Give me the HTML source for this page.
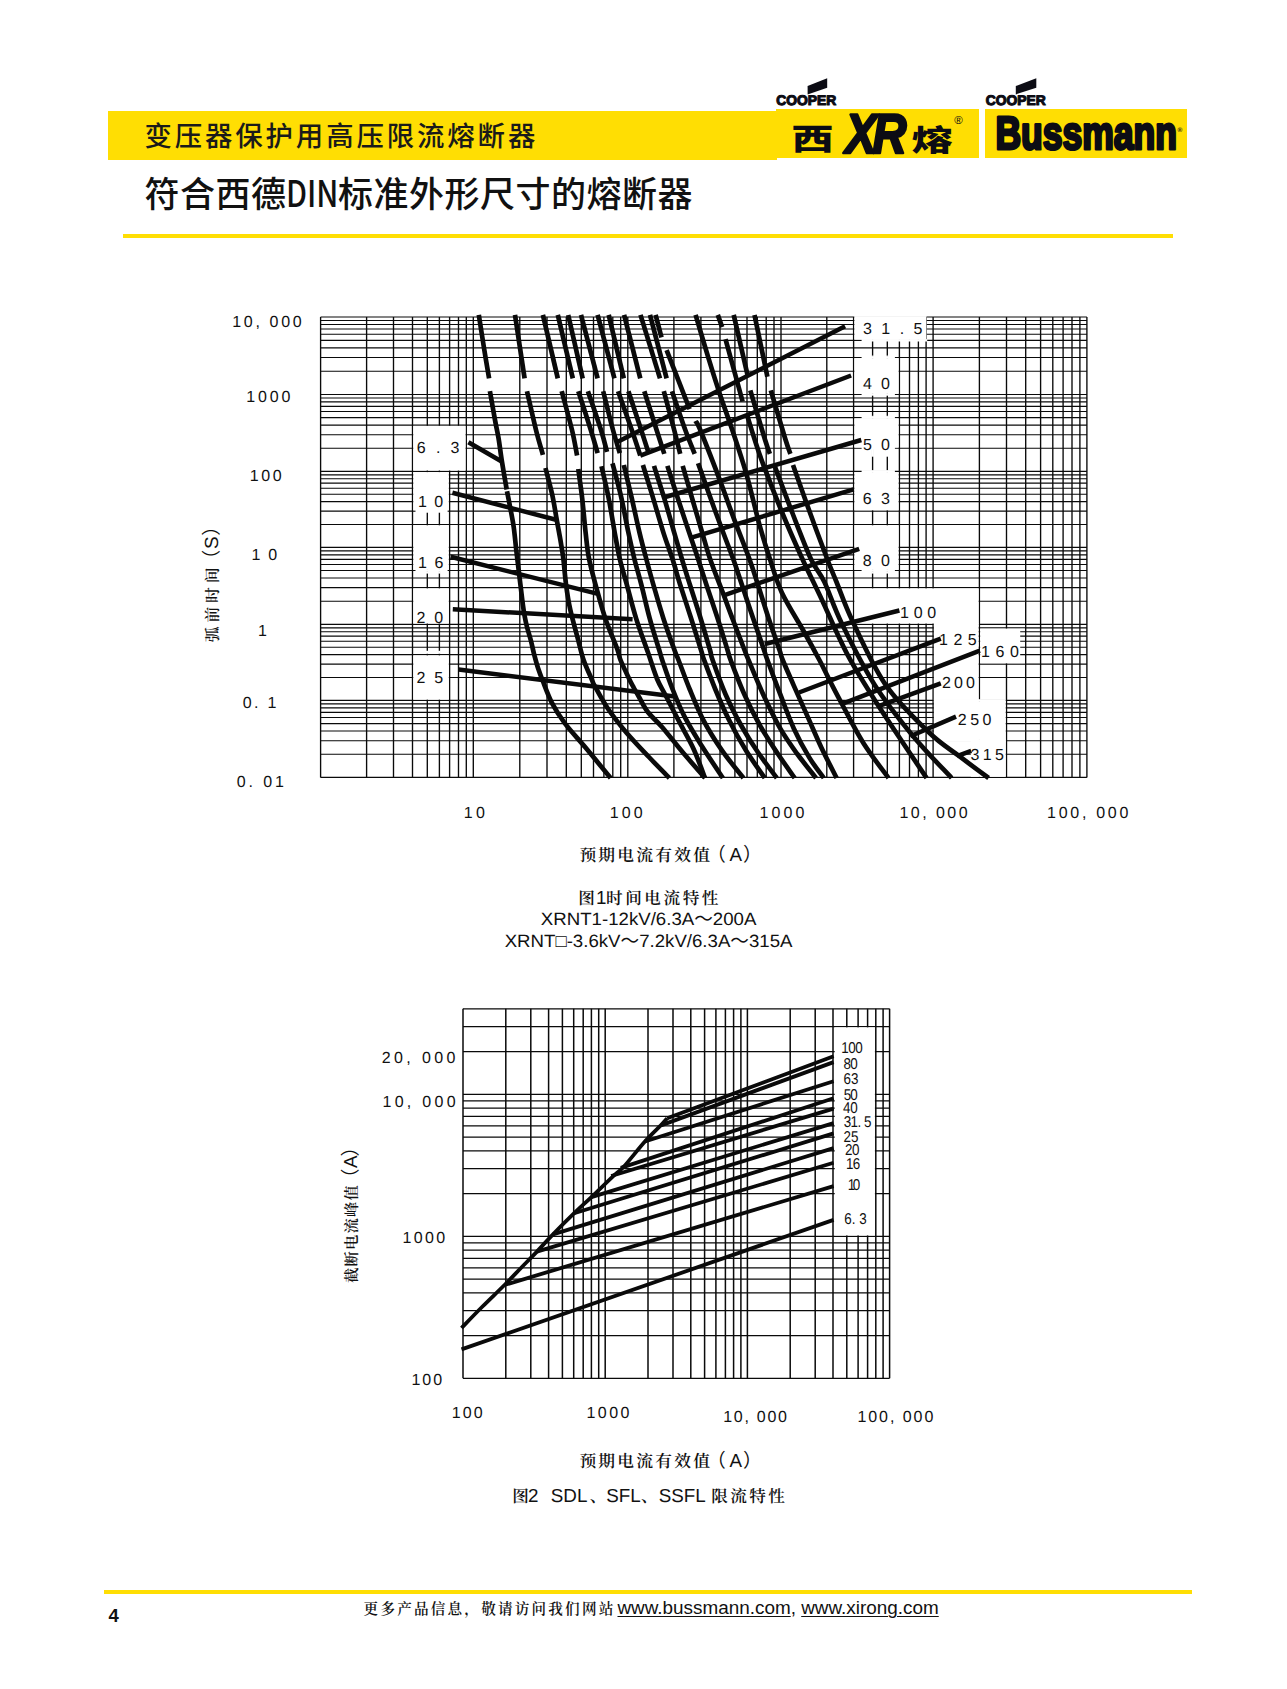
<!DOCTYPE html>
<html lang="zh-CN"><head><meta charset="utf-8">
<title>变压器保护用高压限流熔断器</title>
<style>
html,body{margin:0;padding:0;background:#fff;}
body{width:1287px;height:1689px;overflow:hidden;}
#page{position:relative;width:1287px;height:1689px;background:#fff;overflow:hidden;
  font-family:"Liberation Sans","Noto Sans CJK SC",sans-serif;color:#111;}
#charts{position:absolute;left:0;top:0;}
.bar{position:absolute;left:108px;top:111.2px;width:668.5px;height:48.6px;background:#ffde03;}
.logobox{position:absolute;top:108.6px;height:49px;background:#ffde03;}
#lb1{left:775.9px;width:203.2px;}
#lb2{left:984.9px;width:202.4px;}
h1,h2,p{margin:0;padding:0;font-weight:400;white-space:nowrap;}
#title{position:absolute;left:144.4px;top:113.6px;font-family:"Noto Sans CJK SC","Liberation Sans",sans-serif;
  font-size:27.4px;line-height:40px;letter-spacing:2.9px;font-weight:500;color:#1a1a1a;}
#subtitle{position:absolute;left:144.4px;top:167.2px;font-family:"Noto Sans CJK SC","Liberation Sans",sans-serif;
  font-size:35px;line-height:50px;letter-spacing:0.5px;font-weight:500;color:#111;}
.rule{position:absolute;background:#ffde03;}
#rule1{left:122.5px;top:233.5px;width:1050.5px;height:4px;}
#rule2{left:104px;top:1590px;width:1088px;height:4.2px;}
#pageno{position:absolute;left:108.5px;top:1606px;font-size:18.5px;line-height:20px;font-weight:700;color:#111;}
#foot{position:absolute;left:363.6px;top:1596.5px;line-height:22px;font-size:18.9px;color:#111;}
#foot .cn{font-family:"Noto Serif CJK SC","Liberation Serif",serif;font-size:14.6px;letter-spacing:2.2px;font-weight:600;}
#foot .u{text-decoration:underline;text-underline-offset:1.5px;text-decoration-thickness:1.3px;}
#subtitle .din{display:inline-block;width:51.5px;transform:scale(0.86,1.06);transform-origin:0 78%;letter-spacing:0;}
#foot .cn{margin-right:-3.3px;}

</style></head><body>
<div id="page">
<div class="bar"></div>
<div class="logobox" id="lb1"></div>
<div class="logobox" id="lb2"></div>
<h1 id="title">变压器保护用高压限流熔断器</h1>
<h2 id="subtitle">符合西德<span class="din">DIN</span>标准外形尺寸的熔断器</h2>
<div class="rule" id="rule1"></div>

<svg id="charts" width="1287" height="1689" viewBox="0 0 1287 1689" text-rendering="geometricPrecision">
<g id="c1grid" stroke="#0a0a0a" fill="none">
<path stroke-width="1.35" d="M320.6 317V777.4M366.6 317V777.4M393.5 317V777.4M412.5 317V777.4M427.3 317V777.4M439.4 317V777.4M449.6 317V777.4M458.5 317V777.4M466.3 317V777.4M473.3 317V777.4M519.8 317V777.4M547 317V777.4M566.3 317V777.4M581.3 317V777.4M593.5 317V777.4M603.9 317V777.4M612.8 317V777.4M620.7 317V777.4M627.8 317V777.4M673.9 317V777.4M700.9 317V777.4M720 317V777.4M734.9 317V777.4M747 317V777.4M757.3 317V777.4M766.2 317V777.4M774 317V777.4M781 317V777.4M826.8 317V777.4M853.6 317V777.4M872.6 317V777.4M887.3 317V777.4M899.4 317V777.4M909.5 317V777.4M918.4 317V777.4M926.1 317V777.4M933.1 317V777.4M979.4 317V777.4M1006.5 317V777.4M1025.7 317V777.4M1040.6 317V777.4M1052.8 317V777.4M1063.1 317V777.4M1072 317V777.4M1079.9 317V777.4M1086.9 317V777.4"/>
<path stroke-width="1.15" d="M320.6 394.5H1086.9M320.6 371.2H1086.9M320.6 357.5H1086.9M320.6 347.8H1086.9M320.6 340.3H1086.9M320.6 334.2H1086.9M320.6 329H1086.9M320.6 324.5H1086.9M320.6 320.5H1086.9M320.6 471.3H1086.9M320.6 448.2H1086.9M320.6 434.7H1086.9M320.6 425.1H1086.9M320.6 417.6H1086.9M320.6 411.5H1086.9M320.6 406.4H1086.9M320.6 401.9H1086.9M320.6 398H1086.9M320.6 547.4H1086.9M320.6 524.5H1086.9M320.6 511.1H1086.9M320.6 501.6H1086.9M320.6 494.2H1086.9M320.6 488.2H1086.9M320.6 483.1H1086.9M320.6 478.7H1086.9M320.6 474.8H1086.9M320.6 624.3H1086.9M320.6 601.2H1086.9M320.6 587.6H1086.9M320.6 578H1086.9M320.6 570.5H1086.9M320.6 564.5H1086.9M320.6 559.3H1086.9M320.6 554.9H1086.9M320.6 550.9H1086.9M320.6 700.4H1086.9M320.6 677.5H1086.9M320.6 664.1H1086.9M320.6 654.6H1086.9M320.6 647.2H1086.9M320.6 641.2H1086.9M320.6 636.1H1086.9M320.6 631.7H1086.9M320.6 627.8H1086.9M320.6 777.4H1086.9M320.6 754.2H1086.9M320.6 740.7H1086.9M320.6 731H1086.9M320.6 723.6H1086.9M320.6 717.5H1086.9M320.6 712.3H1086.9M320.6 707.9H1086.9M320.6 703.9H1086.9M320.6 317H1086.9"/>
</g>
<g fill="#fff">
<rect x="413.3" y="425.9" width="52.2" height="44.6"/>
<rect x="413.3" y="472.1" width="35.5" height="38.2"/>
<rect x="415.5" y="509.9" width="32.1" height="2.4"/>
<rect x="413.3" y="525.3" width="35.5" height="44.5"/>
<rect x="415.5" y="569.3" width="32.1" height="2.4"/>
<rect x="413.3" y="588.4" width="35.5" height="35.1"/>
<rect x="413.3" y="655.4" width="35.5" height="44.2"/>
<rect x="854.4" y="316.3" width="72" height="23.2"/>
<rect x="854.4" y="314.3" width="72" height="2.4"/>
<rect x="861.6" y="339.1" width="65.6" height="2.4"/>
<rect x="854.4" y="358.3" width="44.2" height="35.4"/>
<rect x="861.6" y="356.3" width="33.3" height="2.4"/>
<rect x="861.6" y="393.3" width="33.3" height="2.4"/>
<rect x="854.4" y="418.4" width="44.2" height="29"/>
<rect x="861.6" y="416.4" width="33.3" height="2.4"/>
<rect x="861.6" y="447" width="33.3" height="2.4"/>
<rect x="854.4" y="472.1" width="44.2" height="38.2"/>
<rect x="861.6" y="470.1" width="33.3" height="2.4"/>
<rect x="854.4" y="525.3" width="44.2" height="44.5"/>
<rect x="861.6" y="569.3" width="33.3" height="2.4"/>
<rect x="854.4" y="588.4" width="124.2" height="35.1"/>
<rect x="933.9" y="623.1" width="44.7" height="2.4"/>
<rect x="933.9" y="625.1" width="44.7" height="74.5"/>
<rect x="933.9" y="623.1" width="44.7" height="2.4"/>
<rect x="933.9" y="699.2" width="44.7" height="2.4"/>
<rect x="980.2" y="628.6" width="44.7" height="34.7"/>
<rect x="1020.2" y="628.6" width="4.5" height="0.1"/>
<rect x="933.9" y="701.2" width="71.8" height="38.7"/>
<rect x="933.9" y="699.2" width="71.8" height="2.4"/>
<rect x="933.9" y="739.5" width="71.8" height="2.4"/>
<rect x="970.8" y="741.5" width="34.9" height="35.3"/>
<rect x="970.8" y="739.5" width="34.9" height="2.4"/>
<rect x="871.3" y="355.6" width="2.6" height="1.1"/>
<rect x="886" y="355.6" width="2.6" height="1.1"/>
<rect x="871.3" y="415.8" width="2.6" height="1"/>
<rect x="886" y="415.8" width="2.6" height="1"/>
<rect x="871.3" y="449" width="2.6" height="7.7"/>
<rect x="886" y="449" width="2.6" height="7.7"/>
<rect x="871.3" y="571.3" width="2.6" height="2.3"/>
<rect x="886" y="571.3" width="2.6" height="2.3"/>
<rect x="426" y="511.9" width="2.6" height="0.7"/>
<rect x="438.1" y="511.9" width="2.6" height="0.7"/>
<rect x="426" y="571.3" width="2.6" height="2.3"/>
<rect x="438.1" y="571.3" width="2.6" height="2.3"/>
<rect x="426" y="650.8" width="2.6" height="3"/>
<rect x="438.1" y="650.8" width="2.6" height="3"/>
</g>
<g stroke="#0a0a0a" fill="none" stroke-width="1.35">
<path d=""/>
</g>
<g stroke="#0a0a0a" fill="none" stroke-width="1.15">
<path d="M1020.2 631.7H1025.7M1020.2 636.1H1025.7M1020.2 641.2H1025.7M1020.2 647.2H1025.7M1020.2 654.6H1025.7"/>
</g>
<g stroke="#0a0a0a" fill="none" stroke-width="4.7" stroke-linejoin="round">
<path d="M478.8 314.9C479.7 320.4 482.3 337.4 484 348C485.7 358.6 488.2 373.3 489.1 378.4"/>
<path d="M489.9 391.2C490.8 396 493.6 412.2 495 420C496.4 427.8 497.3 431 498.5 438C499.7 445 500.6 453.4 502 462C503.4 470.6 505.9 484.9 506.7 489.5"/>
<path d="M507 491.2C507.6 494.1 509.3 502.6 510.4 508.6C511.5 514.6 512.7 519.8 513.7 527C514.7 534.2 515.5 543.7 516.5 552C517.5 560.3 518.5 568.8 519.5 577C520.5 585.2 521.6 594.6 522.4 601C523.2 607.4 523.7 611.1 524.5 615.4C525.3 619.7 525.9 622.7 527 627C528.1 631.3 529.8 636.3 531 641C532.2 645.7 533.1 650.5 534.3 655C535.5 659.5 536.6 663.8 538 668C539.4 672.2 540.3 674.7 542.6 680.5C544.9 686.3 548.2 695.8 551.9 702.9C555.6 710 559.3 715.9 564.9 723.4C570.5 730.9 577.9 738.5 585.5 747.6C593.1 756.7 606.4 772.9 610.6 778"/>
<path d="M515 314.9 L524.6 378.4"/>
<path d="M527 391.2C528.5 397.7 533.4 419.4 536 430C538.6 440.6 541.8 450.7 542.9 454.8"/>
<path d="M545.5 468C546.6 472.5 550.4 486.5 552.3 495C554.1 503.5 555.2 511 556.6 519C558 527 559.8 536.1 560.9 542.8C562 549.5 562.5 552.1 563.4 559C564.2 565.9 564.9 575.7 566 584.2C567.1 592.7 568.3 600.7 570.3 609.8C572.3 618.9 575.7 630.5 577.9 638.9C580.1 647.3 581.3 653.3 583.6 660C585.9 666.7 589.7 674.6 591.6 679C593.5 683.4 592.1 681.2 594.8 686.1C597.5 691 602.5 700.7 607.8 708.5C613.1 716.3 619.6 724.6 626.5 732.7C633.4 740.8 641.8 749.5 648.9 757C656 764.5 666 774.5 669.4 778"/>
<path d="M542.9 314.9 L557.8 378.4"/>
<path d="M561.7 391.2C563.4 397.7 569.4 419.3 572 430C574.6 440.7 576.2 451.3 577.1 455.6"/>
<path d="M578.3 469C578.9 473.9 581 487.8 582.2 498.4C583.4 509 584.5 522.5 585.6 532.6C586.8 542.7 587.2 549.5 589.1 559C591 568.5 594.1 579.4 596.8 589.3C599.5 599.2 601.9 608.4 605.3 618.4C608.7 628.4 614.8 642.2 617.3 649.1C619.8 656 618.5 655 620.5 660C622.5 665 627 674.3 629.2 679C631.4 683.7 632.3 685 633.9 688C635.5 691 636.7 693 639 697C641.3 701 644 707 647.8 712C651.6 717 656.2 720.3 662 727C667.8 733.7 675.5 743.8 682.7 752.3C689.9 760.8 701.3 773.7 705 778"/>
<path d="M557.8 314.9 L572.8 378.4"/>
<path d="M578.3 391.2C580.4 397.7 587.6 419.7 590.8 430C594 440.3 596.5 449.2 597.6 453.1"/>
<path d="M601.5 466.2C602.7 471.6 606.5 487.3 608.7 498.4C610.9 509.5 612.9 522.5 614.7 532.6C616.6 542.7 617.8 550.4 619.8 559C621.8 567.6 624 574.3 626.7 584.2C629.4 594.1 632.6 607 636.1 618.4C639.6 629.8 644.5 642.5 648 652.6C651.5 662.7 654.1 671.7 657.1 679C660.1 686.3 662.4 689.1 666.2 696.5C670 703.9 675.4 714.5 680 723.2C684.6 731.9 689.4 739.8 693.6 748.9C697.8 758 703.1 773.1 705 778"/>
<path d="M568.2 314.9 L582.7 378.4"/>
<path d="M587.9 391.2C590.1 397.7 597.8 419.9 601 430C604.2 440.1 606 448.2 607 451.9"/>
<path d="M612.5 463.3C614 469.1 618.9 486.8 621.5 498.4C624.1 509.9 626.2 522.5 628.4 532.6C630.5 542.7 632.3 550.4 634.4 559C636.5 567.6 638.7 574.3 641.2 584.2C643.8 594.1 646.6 607 649.7 618.4C652.8 629.8 657.9 645.7 660 652.6C662.1 659.5 660.1 653.9 662.2 660C664.3 666.1 668.8 679.6 672.5 689C676.2 698.4 679.6 707 684.4 716.4C689.2 725.8 695.1 735.2 701.5 745.5C707.9 755.8 719.3 772.6 722.9 778"/>
<path d="M581 314.9 L597.6 378.4"/>
<path d="M603.2 391.2C604.8 397.7 610.2 419.7 613 430C615.8 440.3 618.7 449.2 619.8 453.1"/>
<path d="M623.8 465C625.1 470.6 629.2 487.1 631.8 498.4C634.4 509.7 637.1 522.5 639.5 532.6C641.9 542.7 644 550.4 646.3 559C648.6 567.6 650.4 574.3 653.2 584.2C656.1 594.1 659.7 607 663.4 618.4C667.1 629.8 672.9 645.7 675.4 652.6C677.9 659.5 676.1 653.9 678.5 660C680.9 666.1 685.5 679 689.6 689C693.7 699 697.8 709.5 703.2 719.8C708.6 730.1 715.4 740.9 722.1 750.6C728.8 760.3 739.9 773.4 743.4 778"/>
<path d="M597.6 314.9 L614.4 378.4"/>
<path d="M618.1 391.2C620.4 397.7 628.1 419.3 631.8 430C635.5 440.7 638.9 451.3 640.3 455.6"/>
<path d="M642.9 465C644.6 470.6 649.8 487.1 653.2 498.4C656.6 509.7 660.2 522.5 663.4 532.6C666.6 542.7 669.7 550.4 672.5 559C675.3 567.6 676.9 574.4 680 584.2C683.1 594 687.5 607 691 618C694.5 629 698.8 643 701 650C703.2 657 701.7 653.5 704.1 660C706.5 666.5 711.1 679 715.2 689C719.3 699 723.8 709.5 728.9 719.8C734 730.1 740 740.9 746 750.6C752 760.3 761.7 773.4 764.8 778"/>
<path d="M608.7 314.9 L623.8 378.4"/>
<path d="M628.4 391.2C630.5 397.7 637.8 419.6 641.2 430C644.6 440.4 647.6 449.9 648.9 453.9"/>
<path d="M654 465.9C655.7 471.3 660.9 487.3 664.3 498.4C667.7 509.5 671.3 522.5 674.2 532.6C677.1 542.7 679.3 550.3 681.9 559C684.5 567.7 686.9 575.2 690 585C693.1 594.8 697.2 607.2 700.5 618C703.8 628.8 708 643 710 650C712 657 710 652.6 712.6 660C715.2 667.4 720.8 683.4 725.5 694.2C730.2 705 735.5 715.3 740.9 725C746.3 734.7 751.9 743.5 757.9 752.3C763.9 761.1 773.6 773.7 776.8 778"/>
<path d="M624.1 314.9 L640.3 378.4"/>
<path d="M644.3 391.2C646.3 397.7 653.3 419.6 656.6 430C659.9 440.4 663 449.9 664.3 453.9"/>
<path d="M667.4 465.9C669.1 471.2 674.1 487 677.7 498C681.3 509 685.6 521.8 689 532C692.4 542.2 695.2 550.2 698.1 559C701 567.8 703.3 575.2 706.5 585C709.7 594.8 714 607.2 717.5 618C721 628.8 725.3 643 727.5 650C729.7 657 727.8 652.6 730.6 660C733.4 667.4 739.4 683.4 744.3 694.2C749.1 705 754.3 715.3 759.7 725C765.1 734.7 771 743.5 776.8 752.3C782.6 761.1 791.7 773.7 794.7 778"/>
<path d="M640.5 314.9 L660 378.4"/>
<path d="M663.8 391.2C665.5 397.7 671.5 419.6 674.2 430C676.9 440.4 679.2 449.9 680.2 453.9"/>
<path d="M682.7 465.9C684.2 471.2 688.8 487 692 498C695.2 509 699 521.8 702 532C705 542.2 706.5 548.5 710.1 559C713.7 569.5 720 585.1 723.8 595.3C727.6 605.5 729.5 610.9 733 620C736.5 629.1 741.9 643.3 744.5 650C747.1 656.7 745.4 652.6 748.5 660C751.6 667.4 757.8 682.8 763.1 694.2C768.4 705.6 774.5 718.4 780.2 728.4C785.9 738.4 791.3 745.7 797.3 754C803.3 762.3 812.9 774 816 778"/>
<path d="M650 314.9 L666.6 378.4"/>
<path d="M672 391.2C674.2 397.7 681.5 419.6 685.3 430C689.1 440.4 693.1 449.9 694.7 453.9"/>
<path d="M698.1 463.3C700.2 469.1 706.4 486.6 710.5 498C714.6 509.4 719.2 521.8 723 532C726.8 542.2 730 550.2 733.2 559C736.4 567.8 738.7 575.2 742 585C745.3 594.8 749.3 607.2 753 618C756.7 628.8 761.6 643 764 650C766.4 657 764.7 652.6 767.4 660C770.1 667.4 775.8 682.8 780.2 694.2C784.6 705.6 789 717.9 793.8 728.4C798.6 738.9 804.2 749.1 809.2 757.4C814.2 765.7 821.4 774.6 823.8 778"/>
<path d="M655.6 314.9 L661.5 337.4"/>
<path d="M666.6 350.2 L689.6 409.1"/>
<path d="M695.5 421C696.4 422.7 696.6 420.9 700.7 431C704.8 441.1 714.8 466.7 720.3 481.3C725.8 495.9 729.1 505.9 734 518.9C738.9 531.9 745.4 548 749.4 559C753.4 570 754.8 575.2 758 585C761.2 594.8 764.9 607.2 768.5 618C772.1 628.8 777.1 643 779.5 650C781.9 657 780.3 654.1 782.7 660C785.1 665.9 789.7 676.2 793.8 685.6C797.9 695 802.9 706.1 807.5 716.4C812.1 726.7 816.4 736.9 821.2 747.2C826.1 757.5 834 772.9 836.6 778"/>
<path d="M695.6 314.9C697.7 322.1 704.3 344.5 708.4 357.9C712.5 371.3 716.3 383.5 720.3 395.5C724.3 407.5 728 417.1 732.3 430C736.6 442.9 741.4 456.8 746 472.7C750.6 488.6 755.7 511.3 759.7 525.7C763.7 540.1 766.2 547.8 769.9 559C773.6 570.2 776.2 580.5 781.9 592.7C787.6 604.9 797.9 620.8 804.1 632C810.4 643.2 815.1 651.9 819.4 660C823.7 668.1 825.9 673 829.7 680.5C833.6 688 836.9 694.5 842.5 705C848.1 715.5 855.8 731 863.5 743.2C871.2 755.4 884.3 772.2 888.5 778"/>
<path d="M717.8 314.9 L722.1 327.1"/>
<path d="M725.5 339.1 L742.6 401.5"/>
<path d="M746.8 414.3C748.1 418.4 751.8 430.7 754.5 439C757.2 447.3 758.5 452 763.1 464.2C767.7 476.4 775.4 496.2 781.9 512C788.4 527.8 795.7 544.3 802.4 559C809.1 573.7 814.4 583.8 822 600C829.6 616.2 838.8 638.5 848.3 656.2C857.8 673.9 865.7 685.9 878.7 706.2C891.8 726.5 918.6 766 926.6 778"/>
<path d="M733.7 314.9 L747.7 375.8"/>
<path d="M750.3 390.3C752.7 398.4 761.5 428.4 764.8 439C768.1 449.6 769 451.4 769.9 453.9"/>
<path d="M775 466.8C777.8 474.3 786 496.6 792 512C798 527.4 805.5 547.3 810.9 559C816.3 570.7 819.2 571.2 824.4 582C829.5 592.8 833.5 606.4 841.8 623.5C850.1 640.6 862.4 665.5 874.4 684.4C886.4 703.3 900.7 721.1 913.6 736.7C926.5 752.3 945.3 771.1 951.6 778"/>
<path d="M754.5 314.9 L767.4 376.7"/>
<path d="M770.8 390.3C773.2 398.4 782 428.4 785.3 439C788.6 449.6 789.5 451.4 790.4 453.9"/>
<path d="M793 465C795.7 472.5 803.3 494.3 809 510C814.7 525.7 822.6 547 827.2 559C831.8 571 832.3 571.6 836.5 582C840.7 592.4 844.5 604.2 852.6 621.3C860.7 638.4 872.6 665.9 885.3 684.4C898 702.9 916.5 720.3 928.8 732.3C941.1 744.3 949.3 748.6 959.3 756.2C969.3 763.8 983.7 774.4 988.6 778"/>
</g>
<g stroke="#0a0a0a" fill="none" stroke-width="4.5">
<path d="M468.4 442.2L502.1 461.7M452.4 492.8L557 520M450.6 556.8L596.8 593.6M452.8 609.2L632.6 619.2M458.6 669.5L676.8 696.8M617.3 442L845.1 326.2M640.3 455.6L851.1 375.5M665.3 497L861.3 440M691.3 537.7L853.7 489.3M723.8 595.3L859.2 548.8M764.8 644L899.4 610.5M799 692.5L940.8 638.7M842.8 703.6L979.9 650.7M878.7 706.2L940.8 683.4M910.3 736.2L956 716.6M957.1 756.2L971.2 750.8"/>
</g>
<g font-family="'Liberation Sans', sans-serif" fill="#111">
<text x="416.7" y="453.1" font-size="16" letter-spacing="10.29" xml:space="preserve">6.3</text>
<text x="418.1" y="506.6" font-size="16" letter-spacing="7.27" xml:space="preserve">10</text>
<text x="418.1" y="568.3" font-size="16" letter-spacing="7.45" xml:space="preserve">16</text>
<text x="416.4" y="622.5" font-size="16" letter-spacing="9.03" xml:space="preserve">20</text>
<text x="416.4" y="682.9" font-size="16" letter-spacing="9.08" xml:space="preserve">25</text>
<text x="862.9" y="334.4" font-size="16" letter-spacing="9.48" xml:space="preserve">31.5</text>
<text x="863.1" y="388.8" font-size="16" letter-spacing="8.90" xml:space="preserve">40</text>
<text x="862.9" y="450.3" font-size="16" letter-spacing="9.17" xml:space="preserve">50</text>
<text x="862.7" y="504.2" font-size="16" letter-spacing="9.42" xml:space="preserve">63</text>
<text x="862.8" y="566.2" font-size="16" letter-spacing="9.22" xml:space="preserve">80</text>
<text x="900" y="617.8" font-size="16" letter-spacing="4.73" xml:space="preserve">100</text>
<text x="939" y="645.3" font-size="16" letter-spacing="5.51" xml:space="preserve">125</text>
<text x="981" y="656.6" font-size="16" letter-spacing="5.58" xml:space="preserve">160</text>
<text x="942" y="687.7" font-size="16" letter-spacing="3.12" xml:space="preserve">200</text>
<text x="957.8" y="724.7" font-size="16" letter-spacing="3.47" xml:space="preserve">250</text>
<text x="970.6" y="759.5" font-size="16" letter-spacing="3.29" xml:space="preserve">315</text>
<text x="232.3" y="326.6" font-size="16" letter-spacing="2.66" xml:space="preserve">10, 000</text>
<text x="246.2" y="402.1" font-size="16" letter-spacing="2.86" xml:space="preserve">1000</text>
<text x="249.8" y="480.5" font-size="16" letter-spacing="2.63" xml:space="preserve">100</text>
<text x="251.5" y="560.4" font-size="16" letter-spacing="7.77" xml:space="preserve">10</text>
<text x="258" y="635.9" font-size="16" letter-spacing="0.00" xml:space="preserve">1</text>
<text x="242.7" y="708.4" font-size="16" letter-spacing="2.33" xml:space="preserve">0. 1</text>
<text x="236.8" y="786.8" font-size="16" letter-spacing="2.85" xml:space="preserve">0. 01</text>
<text x="463.7" y="817.8" font-size="16" letter-spacing="3.37" xml:space="preserve">10</text>
<text x="609.7" y="817.8" font-size="16" letter-spacing="3.13" xml:space="preserve">100</text>
<text x="759.6" y="817.8" font-size="16" letter-spacing="3.06" xml:space="preserve">1000</text>
<text x="899.5" y="817.8" font-size="16" letter-spacing="2.45" xml:space="preserve">10, 000</text>
<text x="1047.1" y="817.8" font-size="16" letter-spacing="2.70" xml:space="preserve">100, 000</text>
</g>
<g id="c2grid" stroke="#0a0a0a" fill="none">
<path stroke-width="1.5" d="M463 1008.8V1378.3M505.8 1008.8V1378.3M530.8 1008.8V1378.3M548.6 1008.8V1378.3M562.4 1008.8V1378.3M573.7 1008.8V1378.3M583.2 1008.8V1378.3M591.4 1008.8V1378.3M598.7 1008.8V1378.3M605.2 1008.8V1378.3M648 1008.8V1378.3M673 1008.8V1378.3M690.8 1008.8V1378.3M704.6 1008.8V1378.3M715.9 1008.8V1378.3M725.4 1008.8V1378.3M733.6 1008.8V1378.3M740.9 1008.8V1378.3M747.4 1008.8V1378.3M790.2 1008.8V1378.3M815.2 1008.8V1378.3M833 1008.8V1378.3M846.8 1008.8V1378.3M858.1 1008.8V1378.3M867.6 1008.8V1378.3M875.8 1008.8V1378.3M883.1 1008.8V1378.3M889.6 1008.8V1378.3"/>
<path stroke-width="1.25" d="M463 1378.3H889.6M463 1335.6H889.6M463 1310.5H889.6M463 1292.8H889.6M463 1279H889.6M463 1267.8H889.6M463 1258.3H889.6M463 1250.1H889.6M463 1242.8H889.6M463 1236.3H889.6M463 1193.6H889.6M463 1168.5H889.6M463 1150.8H889.6M463 1137H889.6M463 1125.8H889.6M463 1116.3H889.6M463 1108.1H889.6M463 1100.8H889.6M463 1094.3H889.6M463 1051.6H889.6M463 1026.5H889.6M463 1008.8H889.6"/>
</g>
<g fill="#fff">
<rect x="834.7" y="1027.4" width="40.2" height="208"/>
</g>
<g stroke="#0a0a0a" fill="none" stroke-width="3.8" stroke-linejoin="round" stroke-linecap="butt">
<path d="M461.5 1328C464.9 1324.5 474.8 1314.2 482 1307C489.2 1299.8 498.2 1291.3 504.5 1285C510.8 1278.7 514.6 1274.6 520 1269C525.4 1263.4 531.4 1257.4 536.9 1251.6C542.4 1245.8 546.8 1240.8 553 1234.4C559.2 1228 567.8 1219.4 574.2 1213.2C580.6 1207 584.7 1203.5 591.4 1197.1C598.1 1190.7 609.2 1179.8 614.6 1174.8C620 1169.8 618.7 1172.3 623.7 1166.8C628.8 1161.2 638.7 1148.5 644.9 1141.5C651.1 1134.5 657.4 1128.9 661.1 1125C664.8 1121.1 666.2 1119.4 667.2 1118.3"/>
<path d="M667.2 1118.3L833.6 1056.2M661.1 1125.4L833.6 1062.1M644.9 1141.5L833.6 1081.2M620.8 1167.9L833.6 1098.3M611.2 1176L833.6 1108.6M591.4 1197.1L833.6 1123.1M574.2 1213.2L833.6 1133.4M553 1234.4L833.6 1148.1M536.9 1251.6L833.6 1162.8M504.5 1285L833.6 1186.1M461.5 1349.4L833.6 1219.9"/>
</g>
<g font-family="'Liberation Sans', sans-serif" fill="#111">
<text x="381.8" y="1063.4" font-size="16" letter-spacing="3.39" xml:space="preserve">20, 000</text>
<text x="382.5" y="1106.5" font-size="16" letter-spacing="3.28" xml:space="preserve">10, 000</text>
<text x="402.4" y="1243.2" font-size="16" letter-spacing="2.39" xml:space="preserve">1000</text>
<text x="411.4" y="1385.4" font-size="16" letter-spacing="1.98" xml:space="preserve">100</text>
<text x="451.8" y="1417.5" font-size="16" letter-spacing="2.03" xml:space="preserve">100</text>
<text x="586.5" y="1417.5" font-size="16" letter-spacing="2.46" xml:space="preserve">1000</text>
<text x="723.2" y="1422.2" font-size="16" letter-spacing="1.73" xml:space="preserve">10, 000</text>
<text x="857.4" y="1422.2" font-size="16" letter-spacing="1.95" xml:space="preserve">100, 000</text>
<text transform="translate(841.3 1053.4) scale(0.86 1)" font-size="15.6" letter-spacing="-0.62" xml:space="preserve">100</text>
<text transform="translate(843.6 1068.6) scale(0.86 1)" font-size="15.6" letter-spacing="-0.95" xml:space="preserve">80</text>
<text transform="translate(843.5 1083.6) scale(0.86 1)" font-size="15.6" letter-spacing="0.17" xml:space="preserve">63</text>
<text transform="translate(843.7 1099.5) scale(0.86 1)" font-size="15.6" letter-spacing="-1.00" xml:space="preserve">50</text>
<text transform="translate(843.1 1112.5) scale(0.86 1)" font-size="15.6" letter-spacing="-0.34" xml:space="preserve">40</text>
<text transform="translate(843.7 1126.9) scale(0.86 1)" font-size="15.6" letter-spacing="-0.63" xml:space="preserve">31. 5</text>
<text transform="translate(843.5 1141.6) scale(0.86 1)" font-size="15.6" letter-spacing="0.13" xml:space="preserve">25</text>
<text transform="translate(845.1 1155.4) scale(0.86 1)" font-size="15.6" letter-spacing="-0.73" xml:space="preserve">20</text>
<text transform="translate(846.1 1168.5) scale(0.86 1)" font-size="15.6" letter-spacing="-0.86" xml:space="preserve">16</text>
<text transform="translate(847.7 1190) scale(0.86 1)" font-size="15.6" letter-spacing="-2.80" xml:space="preserve">10</text>
<text transform="translate(844.3 1224.3) scale(0.86 1)" font-size="15.6" letter-spacing="0.04" xml:space="preserve">6. 3</text>
</g>
<g id="logos" fill="#0c0c14">
  <!-- COOPER (left) -->
  <polygon points="807.6,94.4 807.6,86 827.2,78.3 827.2,87.8"/>
  <text x="776.2" y="105.4" font-family="'Liberation Sans', sans-serif" font-weight="700" font-size="13.9" stroke="#0c0c14" stroke-width="1.1" stroke-linejoin="round" textLength="60" lengthAdjust="spacingAndGlyphs">COOPER</text>
  <!-- COOPER (right) -->
  <polygon points="1015.8,94.4 1015.8,86 1036.3,78.3 1036.3,87.8"/>
  <text x="985.7" y="105.4" font-family="'Liberation Sans', sans-serif" font-weight="700" font-size="13.9" stroke="#0c0c14" stroke-width="1.1" stroke-linejoin="round" textLength="60" lengthAdjust="spacingAndGlyphs">COOPER</text>
  <!-- 西 XR 熔 -->
  <text transform="translate(791.4 150.3) scale(1.4 1)" font-family="'Noto Sans CJK SC', sans-serif" font-weight="900" font-size="30">西</text>
  <text transform="translate(845.2 153.4) scale(0.843 1)" font-family="'Liberation Sans', sans-serif" font-weight="700" font-style="italic" font-size="56" letter-spacing="-5" stroke="#0c0c14" stroke-width="2.4" stroke-linejoin="round">XR</text>
  <text transform="translate(911.5 150.5) scale(1.36 1)" font-family="'Noto Sans CJK SC', sans-serif" font-weight="900" font-size="30">熔</text>
  <text x="954.2" y="124.2" font-family="'Liberation Sans', sans-serif" font-size="11.5">®</text>
  <!-- Bussmann -->
  <text transform="translate(995.4 148.7) scale(0.764 1)" font-family="'Liberation Sans', sans-serif" font-weight="700" font-size="46.5" stroke="#0c0c14" stroke-width="3" stroke-linejoin="round">Bussmann</text>
  <text x="1177.6" y="131.8" font-family="'Liberation Sans', sans-serif" font-size="6.5" font-weight="700">®</text>
</g>
<g id="captions" fill="#111">
  <!-- chart 1 axis titles -->
  <text transform="translate(218.2 642.2) rotate(-90)" font-family="'Noto Serif CJK SC', serif" font-size="15.8" font-weight="600"><tspan x="0" textLength="74.8" lengthAdjust="spacing">弧前时间</tspan><tspan font-family="'Noto Sans CJK SC', sans-serif" font-weight="400" font-size="19" x="73.4">（</tspan><tspan font-family="'Liberation Sans', sans-serif" font-weight="400" font-size="19" x="93.2">S</tspan><tspan font-family="'Noto Sans CJK SC', sans-serif" font-weight="400" font-size="19" x="106.4">）</tspan></text>
  <text y="860.6" font-family="'Noto Serif CJK SC', serif" font-size="16.8" font-weight="600"><tspan x="579.4" textLength="130.6" lengthAdjust="spacing">预期电流有效值</tspan><tspan font-family="'Noto Sans CJK SC', sans-serif" font-weight="400" font-size="19" x="706.7">（</tspan><tspan font-family="'Liberation Sans', sans-serif" font-weight="400" font-size="18.8" x="729.5">A</tspan><tspan font-family="'Noto Sans CJK SC', sans-serif" font-weight="400" font-size="19" x="742.9">）</tspan></text>
  <text y="903.8" font-family="'Noto Serif CJK SC', serif" font-size="16.6" font-weight="600"><tspan x="578.2">图</tspan><tspan font-family="'Liberation Sans', sans-serif" font-weight="400" font-size="18.8" x="596.0">1</tspan><tspan x="606.0" textLength="112.4" lengthAdjust="spacing">时间电流特性</tspan></text>
  <text x="540.8" y="925" font-family="'Liberation Sans','Noto Sans CJK SC', sans-serif" font-size="17.8" textLength="215.6" lengthAdjust="spacingAndGlyphs">XRNT1-12kV/6.3A～200A</text>
  <text x="504.7" y="947" font-family="'Liberation Sans','Noto Sans CJK SC', sans-serif" font-size="17.8" textLength="287.8" lengthAdjust="spacingAndGlyphs">XRNT□-3.6kV～7.2kV/6.3A～315A</text>
  <!-- chart 2 -->
  <text transform="translate(356.6 1283) rotate(-90)" font-family="'Noto Serif CJK SC', serif" font-size="15.4" font-weight="600"><tspan x="0" textLength="97.8" lengthAdjust="spacing">截断电流峰值</tspan><tspan font-family="'Noto Sans CJK SC', sans-serif" font-weight="400" font-size="19" x="95.6">（</tspan><tspan font-family="'Liberation Sans', sans-serif" font-weight="400" font-size="18.8" x="114.9">A</tspan><tspan font-family="'Noto Sans CJK SC', sans-serif" font-weight="400" font-size="19" x="126.5">）</tspan></text>
  <text y="1466.6" font-family="'Noto Serif CJK SC', serif" font-size="16.8" font-weight="600"><tspan x="579.4" textLength="130.6" lengthAdjust="spacing">预期电流有效值</tspan><tspan font-family="'Noto Sans CJK SC', sans-serif" font-weight="400" font-size="19" x="706.7">（</tspan><tspan font-family="'Liberation Sans', sans-serif" font-weight="400" font-size="18.8" x="729.5">A</tspan><tspan font-family="'Noto Sans CJK SC', sans-serif" font-weight="400" font-size="19" x="742.9">）</tspan></text>
  <text y="1501.8" font-family="'Noto Serif CJK SC', serif" font-size="16.6" font-weight="600" xml:space="preserve"><tspan x="512.2">图</tspan><tspan font-family="'Liberation Sans', sans-serif" font-weight="400" font-size="18.8" x="528.1">2</tspan><tspan font-family="'Liberation Sans', sans-serif" font-weight="400" font-size="18.8" x="550.8">SDL</tspan><tspan x="589.8">、</tspan><tspan font-family="'Liberation Sans', sans-serif" font-weight="400" font-size="18.8" x="606.3">SFL</tspan><tspan x="641.1">、</tspan><tspan font-family="'Liberation Sans', sans-serif" font-weight="400" font-size="18.8" x="658.8">SSFL</tspan><tspan x="711.2" textLength="73.6" lengthAdjust="spacing">限流特性</tspan></text>
</g>

</svg>
<div class="rule" id="rule2"></div>
<div id="pageno">4</div>
<p id="foot"><span class="cn">更多产品信息，敬请访问我们网站</span> <span class="u">www.bussmann.com</span>, <span class="u">www.xirong.com</span></p>

</div></body></html>
